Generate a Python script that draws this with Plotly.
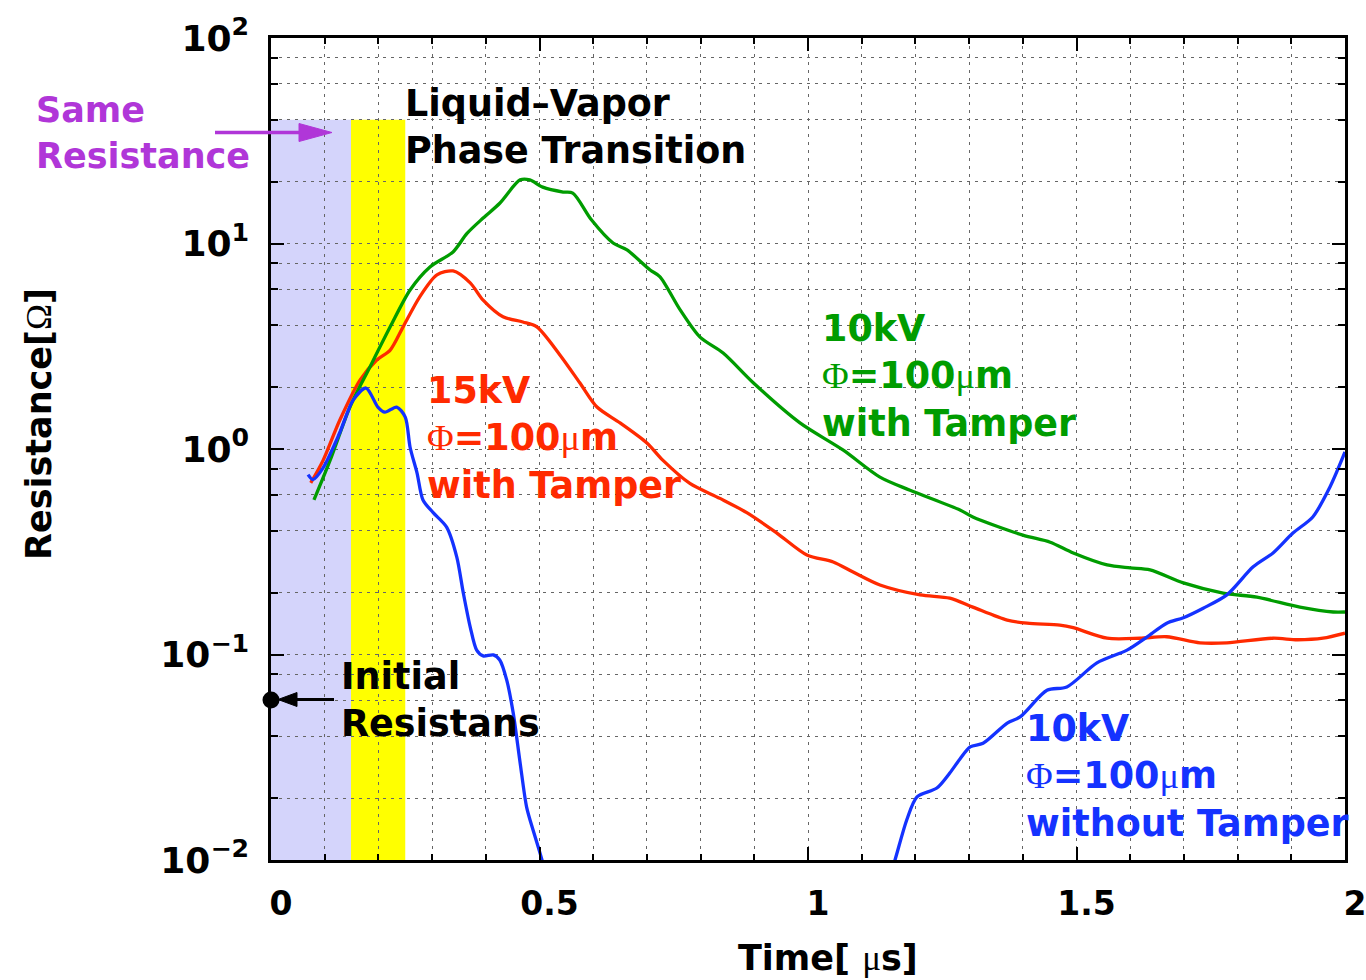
import plotly.graph_objects as go

# ---- data: resistance vs time (time in microseconds, resistance in ohms) ----
# 15 kV, 100 um wire with tamper
red_t = [0.074, 0.097, 0.128, 0.166, 0.197, 0.222, 0.246, 0.277, 0.309, 0.339,
         0.371, 0.395, 0.432, 0.469, 0.495, 0.538, 0.575, 0.607, 0.650, 0.700,
         0.730, 0.780, 0.836, 0.886, 0.942, 0.998, 1.047, 1.084, 1.134, 1.209,
         1.264, 1.307, 1.371, 1.408, 1.469, 1.494, 1.557, 1.618, 1.668, 1.730,
         1.780, 1.866, 1.911, 1.959, 2.0]
red_r = [0.684, 0.88, 1.38, 2.17, 2.71, 3.03, 3.93, 5.5, 7.03, 7.35,
         6.43, 5.3, 4.4, 4.15, 3.93, 2.87, 2.1, 1.6, 1.34, 1.07,
         0.88, 0.68, 0.575, 0.49, 0.39, 0.305, 0.282, 0.252, 0.218, 0.195,
         0.188, 0.17, 0.147, 0.142, 0.139, 0.135, 0.12, 0.12, 0.122, 0.114,
         0.114, 0.12, 0.118, 0.12, 0.127]

# 10 kV, 100 um wire with tamper
green_t = [0.080, 0.110, 0.147, 0.184, 0.222, 0.259, 0.296, 0.339, 0.365, 0.395,
           0.426, 0.464, 0.482, 0.506, 0.544, 0.562, 0.597, 0.637, 0.663, 0.706,
           0.724, 0.762, 0.799, 0.842, 0.898, 0.985, 1.065, 1.134, 1.190, 1.283,
           1.307, 1.400, 1.451, 1.494, 1.557, 1.600, 1.637, 1.699, 1.773, 1.836,
           1.916, 1.978, 2.0]
green_r = [0.565, 0.88, 1.6, 2.5, 3.93, 5.94, 7.69, 9.1, 11.2, 13.3,
           15.7, 20.4, 20.4, 18.8, 17.8, 17.6, 13.0, 10.05, 9.3, 7.43,
           6.9, 4.75, 3.5, 2.93, 2.1, 1.34, 0.99, 0.73, 0.63, 0.505,
           0.467, 0.381, 0.352, 0.312, 0.273, 0.264, 0.258, 0.223, 0.199, 0.19,
           0.17, 0.161, 0.161]

# 10 kV, 100 um wire without tamper (falls below the axis between the two parts)
blue_t_early = [0.069, 0.078, 0.097, 0.128, 0.153, 0.177, 0.199, 0.212, 0.234, 0.250,
                0.259, 0.272, 0.283, 0.302, 0.327, 0.346, 0.358, 0.371, 0.383, 0.395,
                0.414, 0.426, 0.439, 0.451, 0.464, 0.476, 0.488, 0.501, 0.515]
blue_r_early = [0.75, 0.71, 0.81, 1.2, 1.73, 1.98, 1.6, 1.51, 1.6, 1.43,
                1.02, 0.764, 0.565, 0.49, 0.417, 0.298, 0.2, 0.136, 0.105, 0.0984,
                0.0995, 0.094, 0.075, 0.052, 0.0296, 0.0181, 0.014, 0.0108, 0.008]
blue_t_late = [1.150, 1.162, 1.184, 1.203, 1.240, 1.264, 1.283, 1.302, 1.326, 1.371,
               1.395, 1.445, 1.482, 1.538, 1.594, 1.631, 1.668, 1.699, 1.736, 1.780,
               1.829, 1.866, 1.903, 1.940, 1.972, 2.0]
blue_r_late = [0.008, 0.010, 0.0157, 0.0203, 0.0224, 0.0265, 0.031, 0.0355, 0.037, 0.0464,
               0.0497, 0.067, 0.0695, 0.091, 0.105, 0.1216, 0.142, 0.151, 0.168, 0.195,
               0.267, 0.312, 0.39, 0.467, 0.653, 0.967]

initial_resistance = 0.06        # ohms, marked on the left axis
same_resistance_end = 0.149      # us, end of the "same resistance" window
phase_transition_end = 0.25      # us, end of the liquid-vapor transition band
band_top = 40.0                  # ohms, top of the shaded bands

x_ticks = [0, 0.5, 1, 1.5, 2]
x_ticktext = ["0", "0.5", "1", "1.5", "2"]
y_ticks = [0.01, 0.1, 1, 10, 100]
y_ticktext = ["10<sup>\u22122</sup>", "10<sup>\u22121</sup>", "10<sup>0</sup>",
              "10<sup>1</sup>", "10<sup>2</sup>"]
y_minor = [k * 10.0 ** e for e in (-2, -1, 0, 1) for k in (2, 4, 6, 8)]

RED, GREEN, BLUE = "#ff2a00", "#009c00", "#1432ff"
PURPLE = "#b036d8"
FONT = "DejaVu Sans"

# plot area in page pixels
L, R, T, B = 271, 1345, 38, 860
W, H = 1366, 980


def px_x(px):
    return (px - L) / (R - L)


def px_y(py):
    return (B - py) / (B - T)


def serif(ch):
    return '<span style="font-family:Liberation Serif;font-weight:normal">' + ch + "</span>"


fig = go.Figure()

line_w = 3.3
for xs, ys, col in ((red_t, red_r, RED), (green_t, green_r, GREEN),
                    (blue_t_early, blue_r_early, BLUE), (blue_t_late, blue_r_late, BLUE)):
    fig.add_trace(go.Scatter(x=xs, y=ys, mode="lines",
                             line=dict(color=col, width=line_w, shape="spline", smoothing=0.8)))

# initial-resistance dot on the y axis
fig.add_trace(go.Scatter(x=[0], y=[initial_resistance], mode="markers", cliponaxis=False,
                         marker=dict(color="black", size=17)))

grid = dict(showgrid=True, gridcolor="#666666", gridwidth=1, griddash="3px,5px")

fig.update_xaxes(
    range=[0, 2], tickvals=x_ticks, ticktext=x_ticktext,
    ticks="inside", ticklen=13, tickwidth=2, tickcolor="black",
    showline=True, linecolor="black", linewidth=2.5, mirror="allticks", zeroline=False,
    tickfont=dict(family=FONT, size=33, color="black", weight="bold"),
    ticklabelstandoff=13, ticklabelshift=10, ticklabeloverflow="allow",
    minor=dict(dtick=0.1, tick0=0, ticks="inside", ticklen=6, tickwidth=1.5,
               tickcolor="black", **grid),
    **grid,
)
fig.update_yaxes(
    type="log", range=[-2, 2], tickvals=y_ticks, ticktext=y_ticktext,
    ticks="inside", ticklen=13, tickwidth=2, tickcolor="black",
    showline=True, linecolor="black", linewidth=2.5, mirror="allticks", zeroline=False,
    tickfont=dict(family=FONT, size=36, color="black", weight="bold"),
    ticklabelstandoff=12, ticklabeloverflow="allow",
    minor=dict(tickvals=y_minor, ticks="inside", ticklen=7, tickwidth=1.5,
               tickcolor="black", **grid),
    **grid,
)

# shaded time windows, drawn under the grid
fig.add_shape(type="rect", xref="x", yref="y", x0=0, x1=same_resistance_end,
              y0=0.01, y1=band_top, fillcolor="#d4d4fb", line_width=0, layer="below")
fig.add_shape(type="rect", xref="x", yref="y", x0=same_resistance_end, x1=phase_transition_end,
              y0=0.0094, y1=band_top, fillcolor="#ffff00", line_width=0, layer="below")


# arrows drawn as paper-space shapes
def arrow(x_tail, x_tip, y, head_len, head_half, color, width):
    x_back = x_tip - head_len if x_tip > x_tail else x_tip + head_len
    fig.add_shape(type="line", xref="paper", yref="paper",
                  x0=px_x(x_tail), x1=px_x(x_back), y0=px_y(y), y1=px_y(y),
                  line=dict(color=color, width=width))
    fig.add_shape(type="path", xref="paper", yref="paper",
                  path=f"M{px_x(x_tip)},{px_y(y)} L{px_x(x_back)},{px_y(y - head_half)} "
                       f"L{px_x(x_back)},{px_y(y + head_half)} Z",
                  fillcolor=color, line=dict(color=color, width=1))


arrow(215, 332, 132.5, 33, 9, PURPLE, 3.5)
arrow(334, 278, 699.5, 19, 7, "black", 3)


def label(text, x_left, y_mid, color, size=36.5):
    fig.add_annotation(text=text, xref="paper", yref="paper", x=px_x(x_left), y=px_y(y_mid),
                       xanchor="left", yanchor="middle", align="left", showarrow=False,
                       borderpad=0,
                       font=dict(family=FONT, size=size, color=color, weight="bold"))


phi_line = serif("\u03a6") + "=100" + serif("\u03bc") + "m"
label("Same<br>Resistance", 35, 133, PURPLE, 35)
label("Liquid\u2013Vapor<br>Phase Transition", 404, 127, "black")
label("15kV<br>" + phi_line + "<br>with Tamper", 426, 438, RED)
label("10kV<br>" + phi_line + "<br>with Tamper", 821, 376, GREEN)
label("10kV<br>" + phi_line + "<br>without Tamper", 1025, 776, BLUE)
label("Initial<br>Resistans", 340, 700, "black")

# axis titles
fig.add_annotation(text="Time[ " + serif("\u03bc") + "s]", xref="paper", yref="paper",
                   x=px_x(828), y=px_y(958), xanchor="center", yanchor="middle",
                   showarrow=False,
                   font=dict(family=FONT, size=35, color="black", weight="bold"))
fig.add_annotation(text="Resistance[" + serif("\u03a9") + "]", xref="paper", yref="paper",
                   x=px_x(39), y=px_y(424), xanchor="center", yanchor="middle",
                   showarrow=False, textangle=-90,
                   font=dict(family=FONT, size=35, color="black", weight="bold"))

fig.update_layout(
    width=W, height=H, showlegend=False,
    margin=dict(l=L, r=W - R, t=T, b=H - B, autoexpand=False),
    paper_bgcolor="white", plot_bgcolor="white",
    font=dict(family=FONT, color="black"),
)

fig.write_html("out.html")
